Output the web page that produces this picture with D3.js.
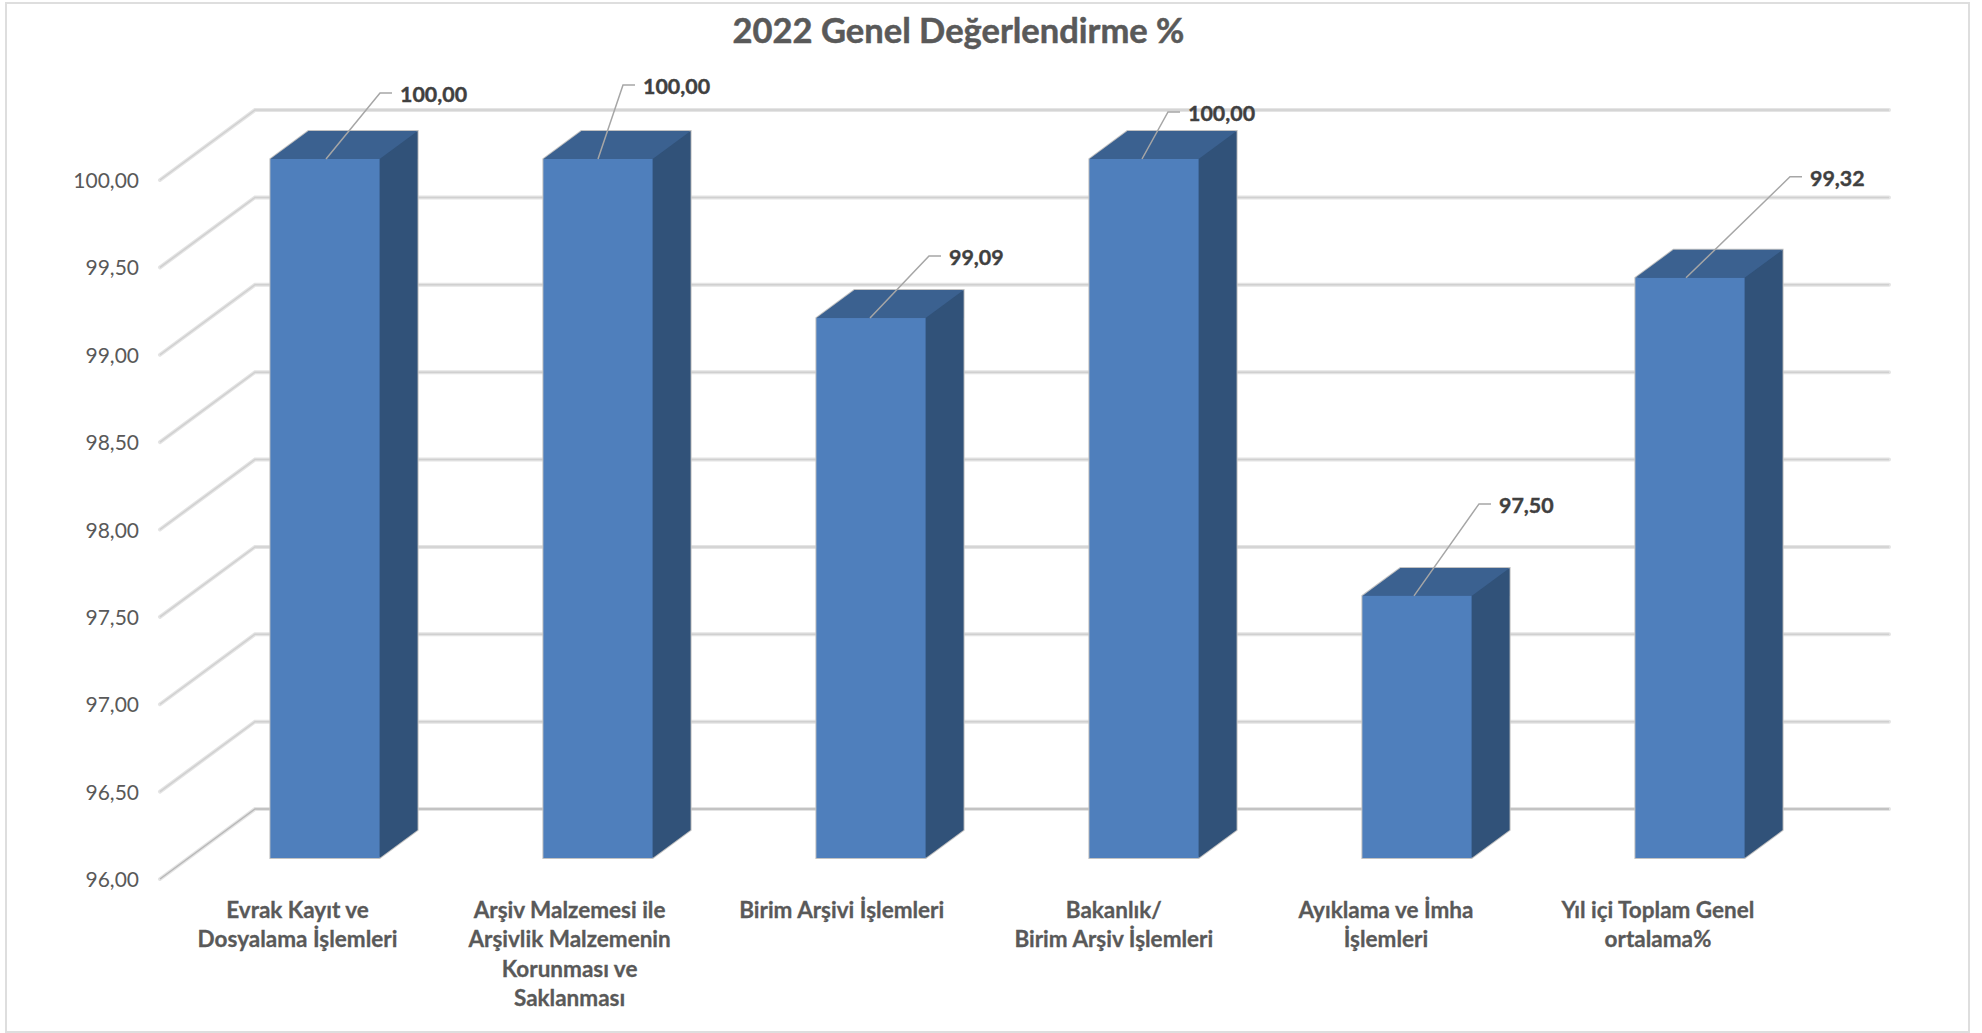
<!DOCTYPE html>
<html>
<head>
<meta charset="utf-8">
<script src="https://cdnjs.cloudflare.com/ajax/libs/d3/7.8.5/d3.min.js"></script>
<style>
  html, body { margin: 0; padding: 0; background: #fff; }
  svg { display: block; }
  text { font-family: Lato, "Open Sans", sans-serif; }
</style>
</head>
<body>
<svg></svg>
<script>
// chart data
let categories = [
    ['Evrak Kayıt ve', 'Dosyalama İşlemleri'],
    ['Arşiv Malzemesi ile', 'Arşivlik Malzemenin', 'Korunması ve', 'Saklanması'],
    ['Birim Arşivi İşlemleri'],
    ['Bakanlık/', 'Birim Arşiv İşlemleri'],
    ['Ayıklama ve İmha', 'İşlemleri'],
    ['Yıl içi Toplam Genel', 'ortalama%']
]
let values = [100, 100, 99.09, 100, 97.5, 99.32]
let yTicks = [96, 96.5, 97, 97.5, 98, 98.5, 99, 99.5, 100]
let title = '2022 Genel Değerlendirme %'

// where each leader line bends, relative to where it leaves the bar
let leaders = [[54, -66], [25, -74], [59, -62], [26, -47], [65, -92], [104, -101]]

let width = 1982
let height = 1033

// 3d box: the back wall is pushed this far from the front plane
let depthX = 95
let depthY = -70
let barFront = 0.3
let barBack = 0.7

let svg = d3.select('svg').attr('width', width).attr('height', height)

let formatValue = (v) => d3.format('.2f')(v).replace('.', ',')

let xScale = d3.scaleBand()
    .domain(d3.range(categories.length))
    .range([160, 1798])
    .paddingInner(0.6)
    .paddingOuter(0.3)

// the labels and leaders step a little tighter than the bars in the original
let labelScale = d3.scalePoint()
    .domain(d3.range(categories.length))
    .range([297.5, 1658])

let leaderScale = d3.scalePoint()
    .domain(d3.range(categories.length))
    .range([326, 1686])

let yScale = d3.scaleLinear()
    .domain([96, 100])
    .range([879, 180])

// outer frame
svg.append('rect')
    .attr('x', 6)
    .attr('y', 3)
    .attr('width', 1963)
    .attr('height', 1029)
    .attr('fill', 'none')
    .attr('stroke', '#dedede')
    .attr('stroke-width', 2)

svg.append('text')
    .attr('x', 958.5)
    .attr('y', 43)
    .attr('text-anchor', 'middle')
    .attr('font-size', 34.5)
    .attr('font-weight', 700)
    .attr('fill', '#595959')
    .attr('stroke', '#595959')
    .attr('stroke-width', 0.5)
    .text(title)

// gridlines run along the side wall and then the back wall
let gridPath = (d) => {
    let y = yScale(d)
    return 'M160,' + y + 'L' + (160 + depthX) + ',' + (y + depthY) + 'L1889,' + (y + depthY)
}

svg.append('g')
    .selectAll('path')
    .data(yTicks)
    .enter()
    .append('path')
    .attr('d', gridPath)
    .attr('fill', 'none')
    .attr('stroke', '#e4e4e4')
    .attr('stroke-width', 4)
    .attr('stroke-linecap', 'round')

svg.append('g')
    .selectAll('path')
    .data(yTicks)
    .enter()
    .append('path')
    .attr('d', gridPath)
    .attr('fill', 'none')
    .attr('stroke', (d) => d === 96 ? '#b8b8b8' : '#d0d0d0')
    .attr('stroke-width', 1.5)

let yAxis = d3.axisLeft(yScale)
    .tickValues(yTicks)
    .tickFormat(formatValue)
    .tickSize(0)
    .tickPadding(21)

let yAxisG = svg.append('g')
    .attr('transform', 'translate(160, 0)')
    .call(yAxis)
yAxisG.select('.domain').remove()
yAxisG.selectAll('text')
    .attr('font-size', 21)
    .attr('fill', '#595959')
    .attr('dy', '0.36em')
    .style('font-family', 'Lato, "Open Sans", sans-serif')

let bars = svg.append('g')
    .selectAll('g')
    .data(values)
    .enter()
    .append('g')

// front-plane corner of a bar, moved back by a share of the depth
let px = (i, share) => xScale(i) + depthX * share
let py = (v, share) => yScale(v) + depthY * share
let boxDx = depthX * (barBack - barFront)
let boxDy = depthY * (barBack - barFront)

// soft grey edge around the whole box
bars.append('path')
    .attr('class', 'edge')
    .attr('d', (d, i) => {
        let x = px(i, barFront)
        let w = xScale.bandwidth()
        let top = py(d, barFront)
        let bottom = py(96, barFront)
        return 'M' + x + ',' + top + 'L' + (x + boxDx) + ',' + (top + boxDy) +
            'L' + (x + boxDx + w) + ',' + (top + boxDy) +
            'L' + (x + boxDx + w) + ',' + (bottom + boxDy) +
            'L' + (x + w) + ',' + bottom + 'L' + x + ',' + bottom + 'Z'
    })
    .attr('fill', '#315279')
    .attr('stroke', '#c2c2c2')
    .attr('stroke-width', 2)

bars.append('path')
    .attr('class', 'side')
    .attr('d', (d, i) => {
        let x = px(i, barFront) + xScale.bandwidth()
        let top = py(d, barFront)
        let bottom = py(96, barFront)
        return 'M' + x + ',' + top + 'L' + (x + boxDx) + ',' + (top + boxDy) +
            'L' + (x + boxDx) + ',' + (bottom + boxDy) + 'L' + x + ',' + bottom + 'Z'
    })
    .attr('fill', '#315279')

bars.append('path')
    .attr('class', 'top')
    .attr('d', (d, i) => {
        let x = px(i, barFront)
        let top = py(d, barFront)
        return 'M' + x + ',' + top + 'L' + (x + boxDx) + ',' + (top + boxDy) +
            'L' + (x + boxDx + xScale.bandwidth()) + ',' + (top + boxDy) +
            'L' + (x + xScale.bandwidth()) + ',' + top + 'Z'
    })
    .attr('fill', '#3b6190')

bars.append('rect')
    .attr('class', 'front')
    .attr('x', (d, i) => px(i, barFront))
    .attr('y', (d) => py(d, barFront))
    .attr('width', xScale.bandwidth())
    .attr('height', (d) => py(96, barFront) - py(d, barFront))
    .attr('fill', '#4f7fbc')

// leader lines and value labels
bars.append('path')
    .attr('d', (d, i) => {
        let x = leaderScale(i)
        let y = py(d, barFront)
        let bx = x + leaders[i][0]
        let by = y + leaders[i][1]
        return 'M' + x + ',' + y + 'L' + bx + ',' + by + 'L' + (bx + 12) + ',' + by
    })
    .attr('fill', 'none')
    .attr('stroke', '#a6a6a6')
    .attr('stroke-width', 1.5)

bars.append('text')
    .attr('x', (d, i) => leaderScale(i) + leaders[i][0] + 20)
    .attr('y', (d, i) => py(d, barFront) + leaders[i][1] + 9)
    .attr('font-size', 21.4)
    .attr('font-weight', 700)
    .attr('fill', '#404040')
    .attr('stroke', '#404040')
    .attr('stroke-width', 0.4)
    .text((d) => formatValue(d))

// category labels sit under the front plane, wrapped like the original
let labels = svg.append('g')
    .selectAll('text')
    .data(categories)
    .enter()
    .append('text')
    .attr('text-anchor', 'middle')
    .attr('font-size', 22.5)
    .attr('font-weight', 700)
    .attr('fill', '#595959')
    .attr('stroke', '#595959')
    .attr('stroke-width', 0.3)

labels.selectAll('tspan')
    .data((d, i) => d.map((line, n) => ({ line: line, n: n, i: i })))
    .enter()
    .append('tspan')
    .attr('x', (d) => labelScale(d.i))
    .attr('y', (d) => 918 + d.n * 29.3)
    .text((d) => d.line)
</script>
</body>
</html>
